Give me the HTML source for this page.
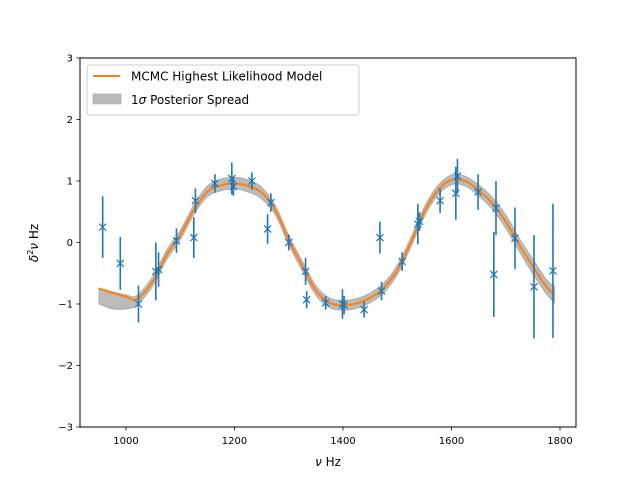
<!DOCTYPE html>
<html><head><meta charset="utf-8"><style>
body{margin:0;background:#fff;}
svg{display:block;font-family:"DejaVu Sans","Liberation Sans",sans-serif;}
</style></head><body>
<svg id="chart" width="640" height="480" xmlns="http://www.w3.org/2000/svg">
<rect width="640" height="480" fill="#fff"/>
<g id="band"></g>
<g id="model"></g>
<g id="pts"></g>
<rect x="80" y="58" width="496" height="369" fill="none" stroke="#000" stroke-width="1"/>
<g id="axes"></g>
<text x="328" y="466" font-size="12" text-anchor="middle"><tspan font-style="italic">ν</tspan> Hz</text>
<text transform="translate(38,243) rotate(-90)" font-size="12" text-anchor="middle"><tspan font-style="italic">δ</tspan><tspan font-size="8" dy="-5">2</tspan><tspan dy="5" font-style="italic">ν</tspan> Hz</text>
<g>
<rect x="87" y="65" width="272" height="50" rx="3" fill="#fff" fill-opacity="0.8" stroke="#ccc"/>
<line x1="93" y1="76" x2="120" y2="76" stroke="#ff7f0e" stroke-width="2"/>
<text x="131" y="80.5" font-size="12">MCMC Highest Likelihood Model</text>
<rect x="93" y="94" width="28" height="10" fill="#bbb" stroke="#999" stroke-width="0.5"/>
<text x="131" y="104" font-size="12">1<tspan font-style="italic">σ</tspan> Posterior Spread</text>
</g>
</svg>
<script>
const freqs=[957,989.5,1023,1055,1060,1093,1125,1128,1164,1195,1198,1232,1267,1261,1300,1331,1333,1368,1399,1402,1439,1471,1468,1509,1538,1541,1579,1608,1611,1649,1678,1682,1717,1752,1787];
const vals=[0.25,-0.34,-1.0,-0.47,-0.44,0.03,0.08,0.68,0.96,1.04,0.91,1.0,0.65,0.22,0.0,-0.47,-0.93,-0.98,-1.0,-1.02,-1.09,-0.79,0.08,-0.31,0.30,0.34,0.68,0.80,1.08,0.82,-0.52,0.56,0.07,-0.72,-0.46];
const errs=[0.5,0.43,0.3,0.47,0.28,0.2,0.33,0.2,0.15,0.26,0.15,0.14,0.15,0.24,0.13,0.22,0.14,0.11,0.24,0.15,0.13,0.15,0.26,0.15,0.33,0.15,0.2,0.43,0.28,0.29,0.69,0.44,0.5,0.84,1.09];
const modelF=[950,975,1000,1020,1050,1075,1100,1125,1150,1175,1200,1225,1250,1275,1300,1325,1350,1375,1400,1425,1450,1475,1500,1525,1550,1575,1600,1625,1650,1675,1700,1725,1750,1775,1790];
const modelV=[-0.75,-0.82,-0.88,-0.92,-0.62,-0.2,0.12,0.53,0.83,0.93,0.96,0.92,0.81,0.53,0.04,-0.38,-0.78,-0.98,-1.02,-0.99,-0.9,-0.74,-0.45,0.0,0.5,0.85,1.02,1.0,0.85,0.64,0.34,-0.04,-0.39,-0.72,-0.85];
const bandHi=[-0.74,-0.8,-0.85,-0.86,-0.54,-0.12,0.2,0.61,0.92,1.03,1.06,1.02,0.9,0.61,0.12,-0.3,-0.7,-0.9,-0.94,-0.91,-0.82,-0.66,-0.37,0.08,0.58,0.93,1.1,1.08,0.94,0.74,0.45,0.07,-0.27,-0.6,-0.72];
const bandLo=[-1.0,-1.08,-1.08,-1.02,-0.7,-0.28,0.04,0.45,0.74,0.84,0.87,0.82,0.71,0.45,-0.04,-0.46,-0.86,-1.06,-1.1,-1.07,-0.98,-0.82,-0.53,-0.08,0.42,0.77,0.94,0.92,0.76,0.54,0.23,-0.15,-0.51,-0.84,-0.98];
const xTicks=[1000,1200,1400,1600,1800];
const yTicks=[-3,-2,-1,0,1,2,3];
const X=f=>126+(f-1000)*0.5425;
const Y=v=>242.5-v*61.5;
const NS="http://www.w3.org/2000/svg";
function mk(tag,attrs,parent){const e=document.createElementNS(NS,tag);for(const k in attrs)e.setAttribute(k,attrs[k]);parent.appendChild(e);return e;}
function smooth(pts,start){
 let d=start?"M"+pts[0][0]+","+pts[0][1]:"L"+pts[0][0]+","+pts[0][1];
 for(let i=0;i<pts.length-1;i++){
  const p0=pts[Math.max(i-1,0)],p1=pts[i],p2=pts[i+1],p3=pts[Math.min(i+2,pts.length-1)];
  const c1=[p1[0]+(p2[0]-p0[0])/6,p1[1]+(p2[1]-p0[1])/6];
  const c2=[p2[0]-(p3[0]-p1[0])/6,p2[1]-(p3[1]-p1[1])/6];
  d+=`C${c1[0]},${c1[1]} ${c2[0]},${c2[1]} ${p2[0]},${p2[1]}`;
 }
 return d;
}
// band
const hi=modelF.map((f,i)=>[X(f),Y(bandHi[i])]);
const lo=modelF.map((f,i)=>[X(f),Y(bandLo[i])]).reverse();
const bp=mk("path",{d:smooth(hi,true)+smooth(lo,false)+"Z",fill:"#bbb",stroke:"#aaa","stroke-width":"0.8"},document.getElementById("band"));


// model
const ml=mk("path",{d:smooth(modelF.map((f,i)=>[X(f),Y(modelV[i])]),true),fill:"none",stroke:"#ff7f0e","stroke-width":"2","stroke-linejoin":"round"},document.getElementById("model"));


// points
const pg=document.getElementById("pts");
freqs.forEach((f,i)=>{
 const x=X(f),y=Y(vals[i]);
 const g=mk("g",{},pg);
 
 
 mk("line",{x1:x,x2:x,y1:Y(vals[i]+errs[i]),y2:Y(vals[i]-errs[i]),stroke:"#1f77b4","stroke-width":"1.6"},g);
 mk("path",{d:`M${x-3.5},${y-3.5}L${x+3.5},${y+3.5}M${x-3.5},${y+3.5}L${x+3.5},${y-3.5}`,stroke:"#1f77b4","stroke-width":"1.2"},g);
});
// axes
const ag=document.getElementById("axes");
xTicks.forEach(t=>{
 const x=X(t);
 const l=mk("line",{x1:x,x2:x,y1:427,y2:430.5,stroke:"#000","stroke-width":"0.8"},ag);
 
 
 const tx=mk("text",{x:x,y:444,"font-size":"10","text-anchor":"middle"},ag);
 tx.textContent=t;
 
 
});
yTicks.forEach(t=>{
 const y=Y(t);
 const l=mk("line",{x1:76.5,x2:80,y1:y,y2:y,stroke:"#000","stroke-width":"0.8"},ag);
 
 
 const tx=mk("text",{x:73,y:y+3.5,"font-size":"10","text-anchor":"end"},ag);
 tx.textContent=t<0?"\u2212"+Math.abs(t):t;
 
 
});
</script>
</body></html>
